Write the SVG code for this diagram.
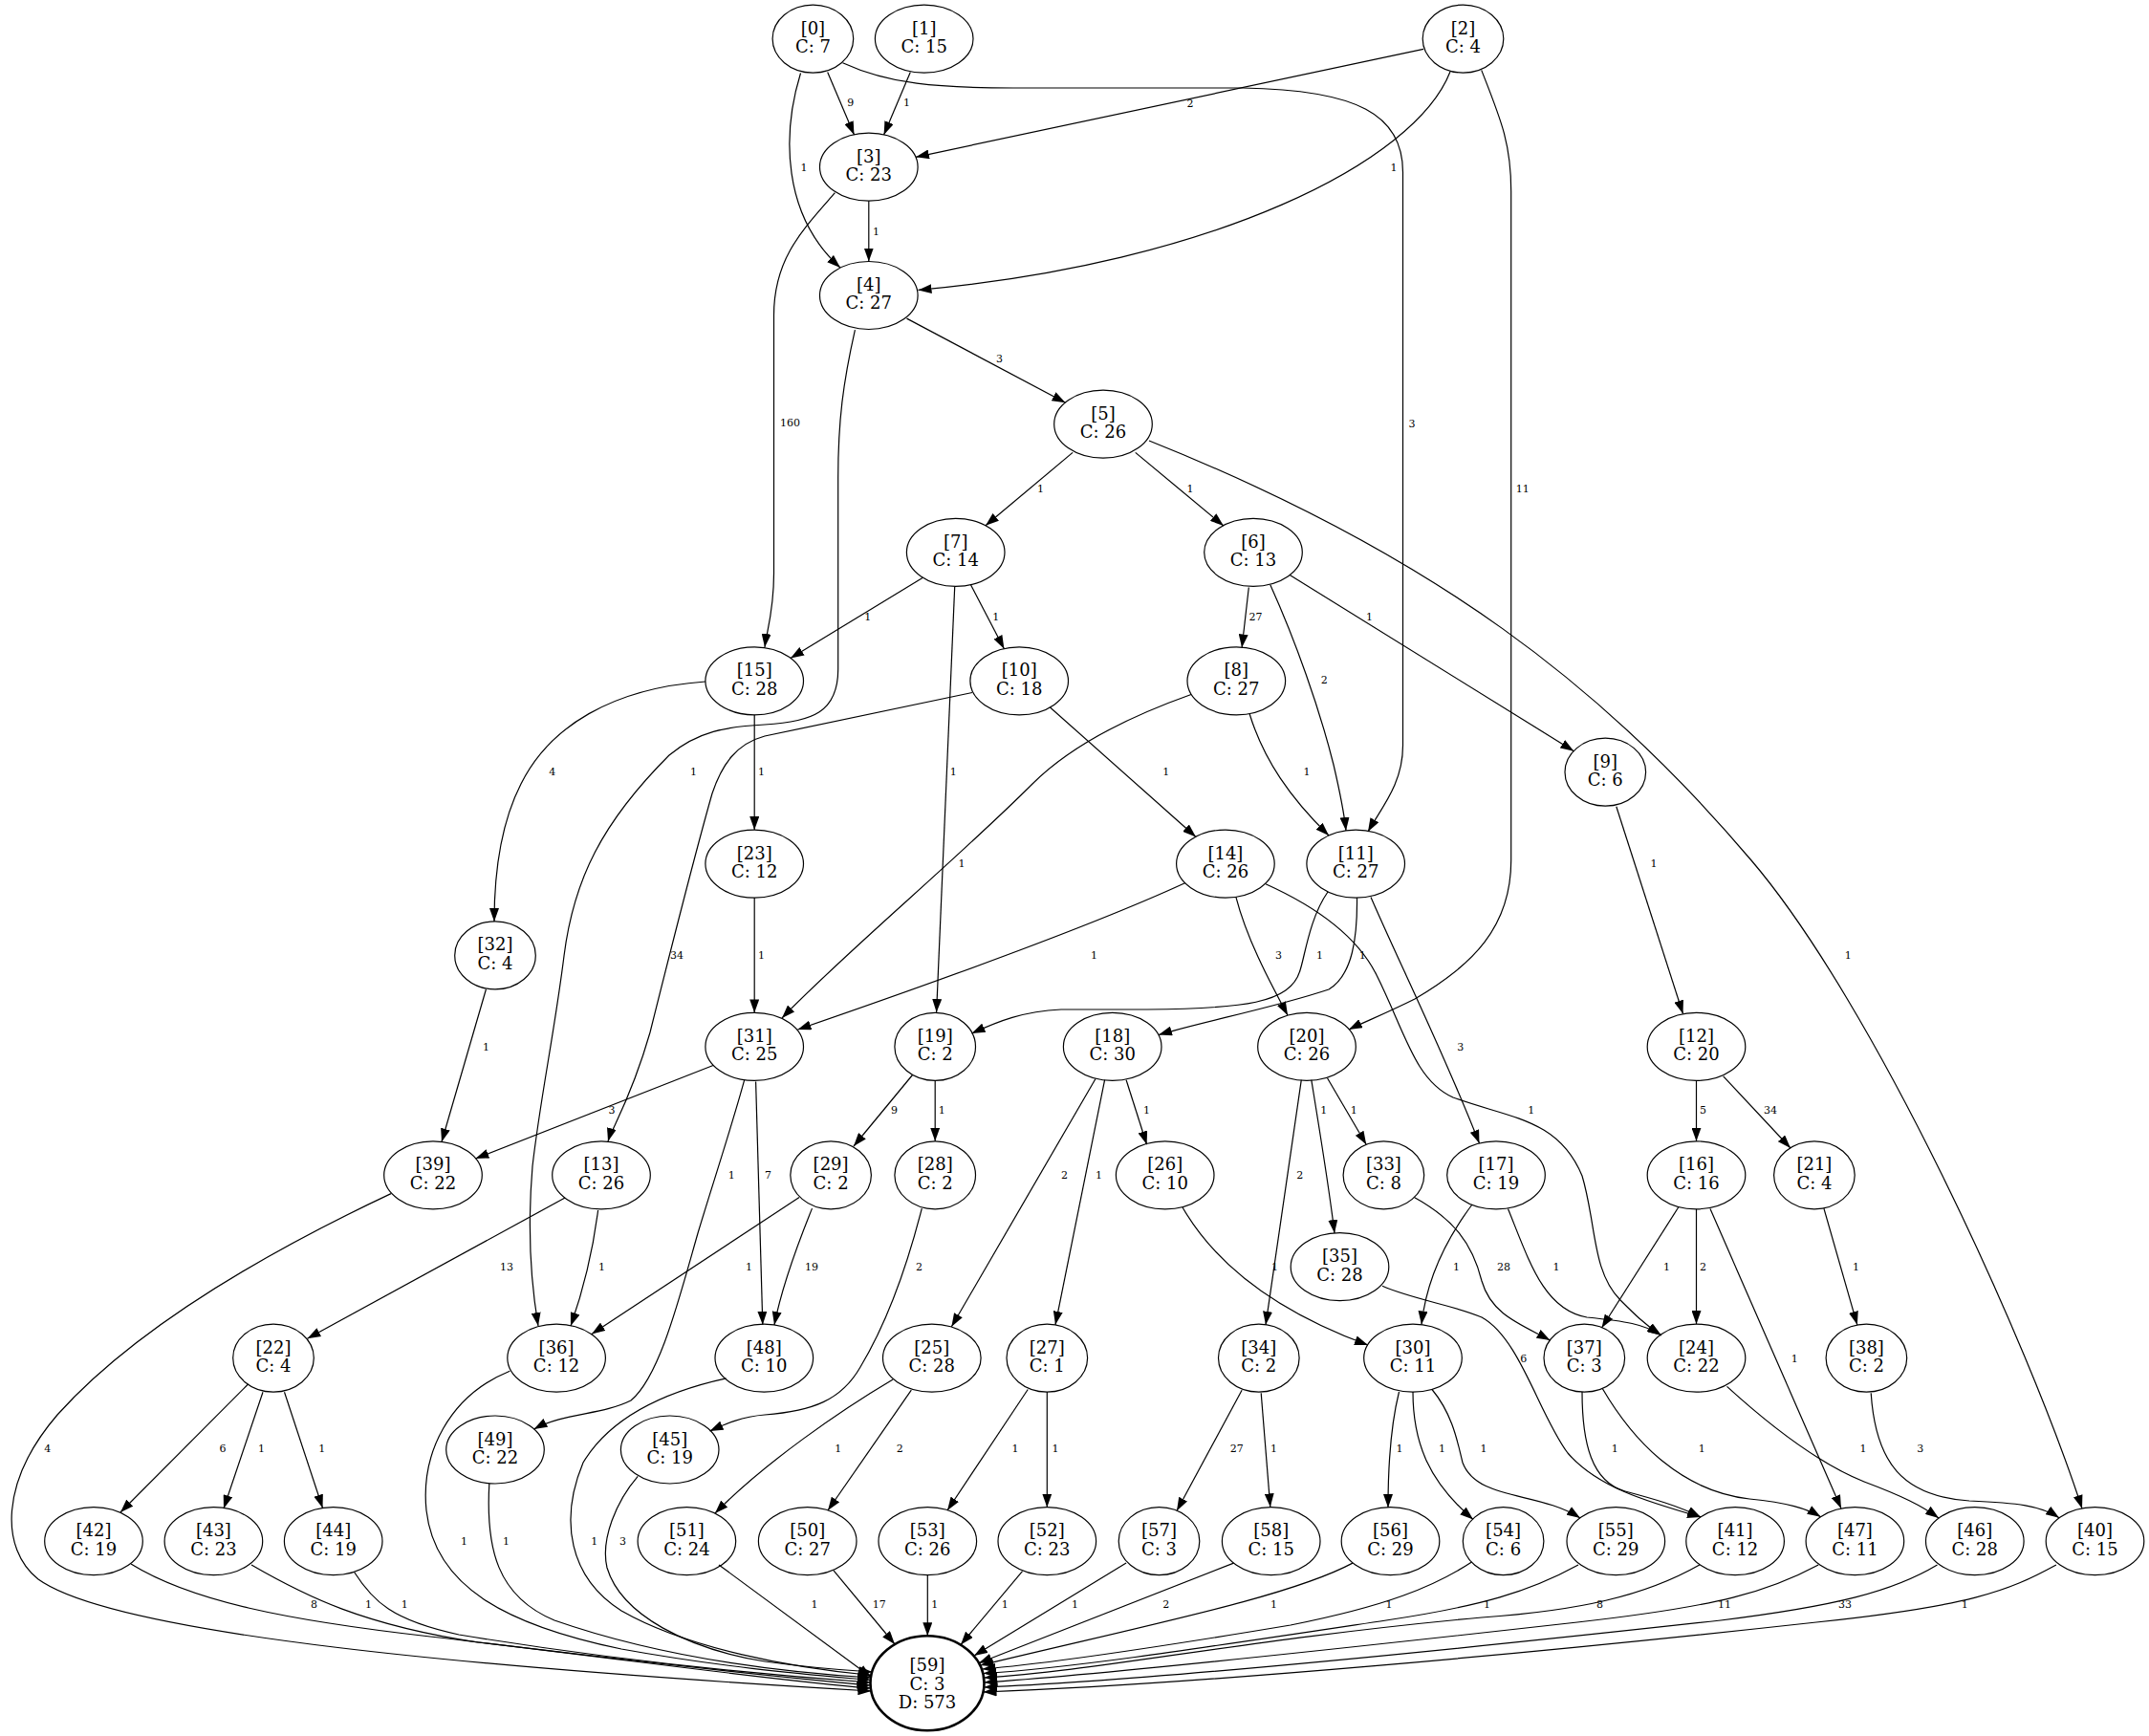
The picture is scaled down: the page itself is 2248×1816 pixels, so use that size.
<svg xmlns="http://www.w3.org/2000/svg" width="2248" height="1816" viewBox="0 0 2248 1816">
<defs>
<style>
.n ellipse{fill:none;stroke:#000;stroke-width:1.2}
.n text{font-family:"DejaVu Serif","Liberation Serif",serif;font-size:18px;text-anchor:middle;fill:#000}
.b ellipse{stroke-width:2.6}
.e path{fill:none;stroke:#000;stroke-width:1.2;marker-end:url(#a)}
.e text{font-family:"DejaVu Serif","Liberation Serif",serif;font-size:11px;text-anchor:middle;fill:#000}
</style>
<marker id="a" markerUnits="userSpaceOnUse" markerWidth="14" markerHeight="10" refX="14" refY="5" orient="auto"><path d="M0,0 L14,5 L0,10 z" fill="#000"/></marker>
</defs>
<rect width="2248" height="1816" fill="#fff"/>
<g id="edges" class="e">
<g id="e0_3"><path d="M865.7,75.4 L893.5,141"/><text x="889.7" y="111.4">9</text></g>
<g id="e1_3"><path d="M952.3,75.4 L924.6,141"/><text x="948.5" y="111.4">1</text></g>
<g id="e2_3"><path d="M1489,51.4 L958,164.3"/><text x="1245" y="112.2">2</text></g>
<g id="e0_4"><path d="M837.5,76.5 C818,140 818,225 879,280"/><text x="840.9" y="178.7">1</text></g>
<g id="e2_4"><path d="M1517,75 C1480,170 1270,275 960.5,303.4"/><text x="1458" y="178.7">1</text></g>
<g id="e0_11"><path d="M881.5,65.7 C930,88 980,92 1060,92 L1300,92 C1420,94 1467.5,120 1467.5,180 L1467.5,780 C1467.5,820 1445,845 1431,870"/><text x="1477" y="446.5">3</text></g>
<g id="e3_4"><path d="M908.8,210.2 L908.8,273.5"/><text x="916.5" y="245.5">1</text></g>
<g id="e3_15"><path d="M873.4,201.7 C840,240 809.5,270 809.5,330 L809.5,600 C809.5,640 802,660 800,677"/><text x="826.5" y="446">160</text></g>
<g id="e4_5"><path d="M948.5,333.1 L1114.5,421.3"/><text x="1045.6" y="378.9">3</text></g>
<g id="e4_36"><path d="M894.4,345.1 C882,400 876.7,440 876.7,500 L876.7,700 C876.7,745 850,755 800,758 C760,760 730,765 700,790 C630,860 600,920 590,1000 C580,1080 565,1150 557,1220 C552,1280 555,1340 563,1387"/><text x="725.6" y="811.4">1</text></g>
<g id="e5_7"><path d="M1122.1,473.4 L1031,549.8"/><text x="1088.6" y="514.9">1</text></g>
<g id="e5_6"><path d="M1187.7,473.4 L1279.9,550"/><text x="1245" y="514.9">1</text></g>
<g id="e5_40"><path d="M1202,461 C1500,580 1680,720 1832,900 C1960,1050 2120,1400 2178,1578"/><text x="1933.3" y="1003">1</text></g>
<g id="e2_20"><path d="M1549.7,73.4 C1570,125 1580.7,150 1580.7,200 L1580.7,900 C1580.7,970 1540,1010 1480,1045 C1450,1060 1425,1070 1411,1077"/><text x="1592.7" y="514.9">11</text></g>
<g id="e6_8"><path d="M1306.3,614.5 L1299.1,677.5"/><text x="1313.5" y="648.6">27</text></g>
<g id="e6_11"><path d="M1328.8,611.8 C1355,670 1380,740 1395,800 C1402,830 1406,850 1408,869"/><text x="1385.2" y="715.1">2</text></g>
<g id="e6_9"><path d="M1349.2,601.5 L1646.3,785.7"/><text x="1432.5" y="648.6">1</text></g>
<g id="e7_15"><path d="M965,604.5 L827,688.5"/><text x="907.8" y="648.6">1</text></g>
<g id="e7_10"><path d="M1015.5,611.8 L1050.4,678.7"/><text x="1041.8" y="648.6">1</text></g>
<g id="e7_19"><path d="M998.7,613.7 L979.6,1059"/><text x="997.3" y="811.4">1</text></g>
<g id="e8_31"><path d="M1246,726.5 C1180,750 1120,780 1080,820 C1000,900 880,1000 818,1065"/><text x="1005.9" y="906.8">1</text></g>
<g id="e8_11"><path d="M1307.2,747 C1322,795 1350,835 1390,874"/><text x="1367" y="811.4">1</text></g>
<g id="e15_32"><path d="M738,713 C640,720 575,760 545,820 C522,865 517,920 517,964"/><text x="577.8" y="811.4">4</text></g>
<g id="e15_23"><path d="M789.2,747.8 L789.2,868.1"/><text x="796.4" y="811.4">1</text></g>
<g id="e10_13"><path d="M1017,724.5 L800,770 C770,778 755,800 745,830 C725,900 700,1000 680,1080 C660,1150 640,1180 636,1194"/><text x="708" y="1003">34</text></g>
<g id="e10_14"><path d="M1098.5,740 L1251,875.5"/><text x="1219.7" y="811.4">1</text></g>
<g id="e9_12"><path d="M1690.8,843.7 L1760.5,1060.5"/><text x="1730" y="906.8">1</text></g>
<g id="e23_31"><path d="M789.2,939.1 L789.2,1059.4"/><text x="796.4" y="1003">1</text></g>
<g id="e14_31"><path d="M1240,923.5 C1150,965 1000,1020 834.5,1077"/><text x="1144.6" y="1003">1</text></g>
<g id="e14_20"><path d="M1292.9,938.4 C1305,985 1330,1030 1347,1062"/><text x="1337.4" y="1003">3</text></g>
<g id="e11_19"><path d="M1389,933 C1370,960 1365,1000 1360,1015 C1350,1050 1300,1055 1200,1056 L1110,1056 C1070,1058 1045,1068 1016.5,1081"/><text x="1380.4" y="1003">1</text></g>
<g id="e11_18"><path d="M1419.5,939 C1420,980 1415,1020 1390,1035 C1330,1055 1260,1068 1212,1082.5"/><text x="1425.3" y="1003">1</text></g>
<g id="e11_17"><path d="M1434,938.4 C1465,1010 1510,1100 1547.5,1196"/><text x="1527.7" y="1098.9">3</text></g>
<g id="e14_24"><path d="M1324,924.8 C1380,950 1420,980 1440,1020 C1470,1080 1480,1130 1520,1148 C1580,1170 1630,1170 1655,1230 C1670,1280 1665,1330 1695,1360 C1710,1375 1720,1385 1737,1396.5"/><text x="1601.8" y="1165.4">1</text></g>
<g id="e32_39"><path d="M508.4,1035 L462,1194.5"/><text x="508.4" y="1098.9">1</text></g>
<g id="e19_29"><path d="M954.5,1124.5 L893,1199"/><text x="935.6" y="1165.4">9</text></g>
<g id="e19_28"><path d="M978.2,1130.4 L978.2,1193.8"/><text x="985.3" y="1165.4">1</text></g>
<g id="e18_26"><path d="M1178.1,1129.7 L1199.6,1197.3"/><text x="1199.6" y="1165.4">1</text></g>
<g id="e18_25"><path d="M1146,1128.5 L995.4,1387.8"/><text x="1113.5" y="1232.6">2</text></g>
<g id="e18_27"><path d="M1155.6,1129.7 L1104,1385.8"/><text x="1149.4" y="1232.6">1</text></g>
<g id="e20_34"><path d="M1361.3,1129.7 L1324,1385.8"/><text x="1359.8" y="1232.6">2</text></g>
<g id="e20_35"><path d="M1371.8,1129.7 C1380,1180 1390,1240 1396,1290"/><text x="1384.7" y="1165.4">1</text></g>
<g id="e20_33"><path d="M1388.5,1127.7 L1429.2,1197.3"/><text x="1416.3" y="1165.4">1</text></g>
<g id="e12_16"><path d="M1774.5,1130.4 L1774.5,1193.8"/><text x="1781.6" y="1165.4">5</text></g>
<g id="e12_21"><path d="M1802.7,1125.8 L1873,1201"/><text x="1851.9" y="1165.4">34</text></g>
<g id="e31_39"><path d="M746,1114.5 L497.4,1212"/><text x="640" y="1165.4">3</text></g>
<g id="e31_49"><path d="M778.7,1129.7 C765,1180 745,1240 730,1290 C710,1360 690,1440 660,1465 C630,1480 590,1478 558.5,1495"/><text x="765.3" y="1232.6">1</text></g>
<g id="e31_48"><path d="M790.6,1131.6 L797.8,1385.8"/><text x="803.6" y="1232.6">7</text></g>
<g id="e29_36"><path d="M836.1,1252.5 L619,1395.5"/><text x="783.5" y="1329.2">1</text></g>
<g id="e29_48"><path d="M849.5,1264.1 C835,1300 818,1345 810,1386"/><text x="849" y="1329.2">19</text></g>
<g id="e28_45"><path d="M964.3,1264.1 C950,1320 930,1380 900,1430 C880,1465 850,1476 800,1480 C775,1482 758,1490 742.5,1497"/><text x="961.4" y="1329.2">2</text></g>
<g id="e13_22"><path d="M591,1253 L321.5,1400.3"/><text x="530" y="1329.2">13</text></g>
<g id="e13_36"><path d="M625.6,1266 C620,1310 610,1350 597,1387"/><text x="629.5" y="1329.2">1</text></g>
<g id="e26_30"><path d="M1237,1263 C1270,1320 1330,1370 1431,1407"/><text x="1333.5" y="1329.2">1</text></g>
<g id="e17_30"><path d="M1540,1260 C1510,1300 1492,1340 1487,1385.5"/><text x="1523.4" y="1329.2">1</text></g>
<g id="e33_37"><path d="M1479.4,1252.5 C1520,1275 1540,1300 1550,1340 C1560,1375 1590,1385 1621.5,1402"/><text x="1573.1" y="1329.2">28</text></g>
<g id="e17_24"><path d="M1577.5,1264.5 C1600,1320 1615,1370 1660,1378 C1700,1382 1720,1385 1738,1397"/><text x="1628.1" y="1329.2">1</text></g>
<g id="e16_37"><path d="M1756,1262.5 L1675.5,1389"/><text x="1743.4" y="1329.2">1</text></g>
<g id="e16_24"><path d="M1774.5,1264.8 L1774.5,1385.1"/><text x="1781.6" y="1329.2">2</text></g>
<g id="e16_47"><path d="M1789,1264.5 L1926,1578"/><text x="1877.3" y="1424.6">1</text></g>
<g id="e21_38"><path d="M1907.9,1264.1 L1942.8,1385.8"/><text x="1941.4" y="1329.2">1</text></g>
<g id="e35_41"><path d="M1446,1345.3 C1480,1360 1520,1365 1550,1378 C1590,1400 1610,1480 1640,1520 C1670,1555 1720,1570 1779,1587"/><text x="1593.7" y="1424.6">6</text></g>
<g id="e37_41"><path d="M1655,1456 C1655,1510 1665,1550 1700,1560 C1730,1568 1755,1575 1779,1587"/><text x="1689.3" y="1519.3">1</text></g>
<g id="e37_47"><path d="M1676.4,1452.7 C1710,1510 1760,1560 1830,1568 C1870,1572 1890,1578 1904.6,1586.8"/><text x="1780.2" y="1519.3">1</text></g>
<g id="e24_46"><path d="M1806.5,1450.4 C1850,1490 1900,1530 1950,1550 C1990,1565 2010,1575 2028,1588"/><text x="1949" y="1519.3">1</text></g>
<g id="e38_40"><path d="M1957.2,1457.3 C1962,1530 1990,1565 2060,1570 C2110,1572 2135,1575 2154,1587.7"/><text x="2008.8" y="1519.3">3</text></g>
<g id="e30_56"><path d="M1463.5,1456 C1455,1490 1452,1530 1452,1577"/><text x="1464.1" y="1519.3">1</text></g>
<g id="e30_54"><path d="M1478,1456.1 C1478,1510 1495,1550 1541,1589.5"/><text x="1508.5" y="1519.3">1</text></g>
<g id="e30_55"><path d="M1498,1453.5 C1520,1480 1525,1510 1530,1530 C1545,1570 1610,1560 1653,1588"/><text x="1552" y="1519.3">1</text></g>
<g id="e25_51"><path d="M934.1,1443 C880,1475 800,1530 748,1583"/><text x="876.8" y="1519.3">1</text></g>
<g id="e25_50"><path d="M953.3,1454.2 L866,1580"/><text x="941.3" y="1519.3">2</text></g>
<g id="e27_53"><path d="M1075.2,1453.5 L991,1580"/><text x="1061.9" y="1519.3">1</text></g>
<g id="e27_52"><path d="M1095.3,1456.1 L1095.3,1576.7"/><text x="1104" y="1519.3">1</text></g>
<g id="e34_57"><path d="M1299.1,1454.2 L1231,1580.5"/><text x="1293.8" y="1519.3">27</text></g>
<g id="e34_58"><path d="M1319.2,1457.3 L1328.8,1576.4"/><text x="1332.6" y="1519.3">1</text></g>
<g id="e22_42"><path d="M259.5,1448 L126,1582"/><text x="233" y="1519.3">6</text></g>
<g id="e22_43"><path d="M275,1456.2 L234,1578"/><text x="273.6" y="1519.3">1</text></g>
<g id="e22_44"><path d="M297.5,1456.2 L337.5,1577.5"/><text x="336.7" y="1519.3">1</text></g>
<g id="e39_59"><path d="M409,1248.6 C300,1300 150,1380 60,1480 C0,1550 0,1620 40,1652 C120,1710 500,1745 911.5,1769"/><text x="49.7" y="1519.3">4</text></g>
<g id="e42_59"><path d="M137,1636 C200,1675 300,1695 450,1712 C650,1735 800,1757 911,1766"/><text x="328.6" y="1682.4">8</text></g>
<g id="e43_59"><path d="M263,1637 C320,1670 380,1700 500,1718 C700,1742 820,1755 910.6,1763"/><text x="385.5" y="1682.4">1</text></g>
<g id="e44_59"><path d="M370.7,1644.8 C390,1675 410,1695 480,1710 C650,1738 800,1752 910.5,1760"/><text x="423.3" y="1682.4">1</text></g>
<g id="e36_59"><path d="M533.3,1434.2 C470,1460 440,1520 446,1580 C455,1660 530,1700 650,1725 C760,1745 850,1752 910.7,1757.5"/><text x="485.5" y="1616">1</text></g>
<g id="e49_59"><path d="M511.8,1552 C508,1620 520,1670 580,1695 C680,1730 800,1748 911,1755"/><text x="529.5" y="1616">1</text></g>
<g id="e48_59"><path d="M759.6,1441.9 C700,1455 640,1480 610,1530 C585,1590 595,1650 650,1685 C720,1725 830,1745 911.5,1752.5"/><text x="621.8" y="1616">1</text></g>
<g id="e45_59"><path d="M667.2,1544.3 C645,1570 628,1610 635,1640 C650,1690 720,1725 800,1738 C850,1745 880,1747 912.5,1749"/><text x="651.5" y="1616">3</text></g>
<g id="e51_59"><path d="M752,1637 L911.4,1754.5"/><text x="851.9" y="1682.4">1</text></g>
<g id="e50_59"><path d="M872,1642.8 L936,1720"/><text x="919.8" y="1682.4">17</text></g>
<g id="e53_59"><path d="M970.3,1647.7 L970.3,1711.2"/><text x="977.7" y="1682.4">1</text></g>
<g id="e52_59"><path d="M1069.5,1643.6 L1005,1720.5"/><text x="1051.3" y="1682.4">1</text></g>
<g id="e57_59"><path d="M1178.1,1635.1 L1019,1732"/><text x="1124.5" y="1682.4">1</text></g>
<g id="e58_59"><path d="M1290.5,1635.1 L1023.8,1739.8"/><text x="1219.7" y="1682.4">2</text></g>
<g id="e56_59"><path d="M1414.9,1635.1 C1350,1670 1200,1700 1025.5,1742"/><text x="1332.6" y="1682.4">1</text></g>
<g id="e54_59"><path d="M1539.5,1634 C1500,1660 1450,1680 1350,1700 C1200,1725 1100,1740 1027.5,1746"/><text x="1453.1" y="1682.4">1</text></g>
<g id="e55_59"><path d="M1651,1637 C1600,1665 1550,1680 1450,1695 C1250,1725 1120,1745 1028.5,1750.5"/><text x="1555.4" y="1682.4">1</text></g>
<g id="e41_59"><path d="M1777.8,1637 C1720,1670 1650,1685 1550,1692 C1300,1715 1150,1748 1029.3,1755"/><text x="1673.5" y="1682.4">8</text></g>
<g id="e47_59"><path d="M1902.2,1637 C1850,1665 1800,1680 1650,1697 C1400,1725 1150,1752 1029.5,1760"/><text x="1804.1" y="1682.4">11</text></g>
<g id="e46_59"><path d="M2026.5,1637 C1980,1665 1920,1680 1800,1695 C1500,1728 1200,1758 1029.3,1765"/><text x="1929.9" y="1682.4">33</text></g>
<g id="e40_59"><path d="M2150.9,1637 C2100,1665 2060,1680 1900,1697 C1600,1730 1250,1762 1028.5,1770"/><text x="2055.2" y="1682.4">1</text></g>
</g>
<g id="nodes">
<g id="n0" class="n"><ellipse cx="850.4" cy="40.6" rx="42.3" ry="35.5"/><text x="850.4" y="35.6">[0]</text><text x="850.4" y="55">C: 7</text></g>
<g id="n1" class="n"><ellipse cx="966.7" cy="40.6" rx="51.3" ry="35.5"/><text x="966.7" y="35.6">[1]</text><text x="966.7" y="55">C: 15</text></g>
<g id="n2" class="n"><ellipse cx="1530.5" cy="40.6" rx="42.3" ry="35.5"/><text x="1530.5" y="35.6">[2]</text><text x="1530.5" y="55">C: 4</text></g>
<g id="n3" class="n"><ellipse cx="908.8" cy="174.7" rx="51.3" ry="35.5"/><text x="908.8" y="169.7">[3]</text><text x="908.8" y="189.1">C: 23</text></g>
<g id="n4" class="n"><ellipse cx="908.8" cy="309" rx="51.3" ry="35.5"/><text x="908.8" y="304">[4]</text><text x="908.8" y="323.4">C: 27</text></g>
<g id="n5" class="n"><ellipse cx="1154" cy="443.7" rx="51.3" ry="35.5"/><text x="1154" y="438.7">[5]</text><text x="1154" y="458.1">C: 26</text></g>
<g id="n6" class="n"><ellipse cx="1311" cy="577.8" rx="51.3" ry="35.5"/><text x="1311" y="572.8">[6]</text><text x="1311" y="592.2">C: 13</text></g>
<g id="n7" class="n"><ellipse cx="999.7" cy="577.8" rx="51.3" ry="35.5"/><text x="999.7" y="572.8">[7]</text><text x="999.7" y="592.2">C: 14</text></g>
<g id="n8" class="n"><ellipse cx="1293.3" cy="712.3" rx="51.3" ry="35.5"/><text x="1293.3" y="707.3">[8]</text><text x="1293.3" y="726.7">C: 27</text></g>
<g id="n9" class="n"><ellipse cx="1679.3" cy="807.7" rx="42.3" ry="35.5"/><text x="1679.3" y="802.7">[9]</text><text x="1679.3" y="822.1">C: 6</text></g>
<g id="n10" class="n"><ellipse cx="1066.2" cy="712.3" rx="51.3" ry="35.5"/><text x="1066.2" y="707.3">[10]</text><text x="1066.2" y="726.7">C: 18</text></g>
<g id="n11" class="n"><ellipse cx="1418.2" cy="903.6" rx="51.3" ry="35.5"/><text x="1418.2" y="898.6">[11]</text><text x="1418.2" y="918">C: 27</text></g>
<g id="n12" class="n"><ellipse cx="1774.5" cy="1094.9" rx="51.3" ry="35.5"/><text x="1774.5" y="1089.9">[12]</text><text x="1774.5" y="1109.3">C: 20</text></g>
<g id="n13" class="n"><ellipse cx="629" cy="1229.3" rx="51.3" ry="35.5"/><text x="629" y="1224.3">[13]</text><text x="629" y="1243.7">C: 26</text></g>
<g id="n14" class="n"><ellipse cx="1281.9" cy="903.6" rx="51.3" ry="35.5"/><text x="1281.9" y="898.6">[14]</text><text x="1281.9" y="918">C: 26</text></g>
<g id="n15" class="n"><ellipse cx="789.2" cy="712.3" rx="51.3" ry="35.5"/><text x="789.2" y="707.3">[15]</text><text x="789.2" y="726.7">C: 28</text></g>
<g id="n16" class="n"><ellipse cx="1774.5" cy="1229.3" rx="51.3" ry="35.5"/><text x="1774.5" y="1224.3">[16]</text><text x="1774.5" y="1243.7">C: 16</text></g>
<g id="n17" class="n"><ellipse cx="1565" cy="1229.3" rx="51.3" ry="35.5"/><text x="1565" y="1224.3">[17]</text><text x="1565" y="1243.7">C: 19</text></g>
<g id="n18" class="n"><ellipse cx="1163.7" cy="1094.9" rx="51.3" ry="35.5"/><text x="1163.7" y="1089.9">[18]</text><text x="1163.7" y="1109.3">C: 30</text></g>
<g id="n19" class="n"><ellipse cx="978.2" cy="1094.9" rx="42.3" ry="35.5"/><text x="978.2" y="1089.9">[19]</text><text x="978.2" y="1109.3">C: 2</text></g>
<g id="n20" class="n"><ellipse cx="1367" cy="1094.9" rx="51.3" ry="35.5"/><text x="1367" y="1089.9">[20]</text><text x="1367" y="1109.3">C: 26</text></g>
<g id="n21" class="n"><ellipse cx="1897.9" cy="1229.3" rx="42.3" ry="35.5"/><text x="1897.9" y="1224.3">[21]</text><text x="1897.9" y="1243.7">C: 4</text></g>
<g id="n22" class="n"><ellipse cx="286" cy="1420.6" rx="42.3" ry="35.5"/><text x="286" y="1415.6">[22]</text><text x="286" y="1435">C: 4</text></g>
<g id="n23" class="n"><ellipse cx="789.2" cy="903.6" rx="51.3" ry="35.5"/><text x="789.2" y="898.6">[23]</text><text x="789.2" y="918">C: 12</text></g>
<g id="n24" class="n"><ellipse cx="1774.5" cy="1420.6" rx="51.3" ry="35.5"/><text x="1774.5" y="1415.6">[24]</text><text x="1774.5" y="1435">C: 22</text></g>
<g id="n25" class="n"><ellipse cx="974.8" cy="1420.6" rx="51.3" ry="35.5"/><text x="974.8" y="1415.6">[25]</text><text x="974.8" y="1435">C: 28</text></g>
<g id="n26" class="n"><ellipse cx="1218.7" cy="1229.3" rx="51.3" ry="35.5"/><text x="1218.7" y="1224.3">[26]</text><text x="1218.7" y="1243.7">C: 10</text></g>
<g id="n27" class="n"><ellipse cx="1095.3" cy="1420.6" rx="42.3" ry="35.5"/><text x="1095.3" y="1415.6">[27]</text><text x="1095.3" y="1435">C: 1</text></g>
<g id="n28" class="n"><ellipse cx="978.2" cy="1229.3" rx="42.3" ry="35.5"/><text x="978.2" y="1224.3">[28]</text><text x="978.2" y="1243.7">C: 2</text></g>
<g id="n29" class="n"><ellipse cx="869.1" cy="1229.3" rx="42.3" ry="35.5"/><text x="869.1" y="1224.3">[29]</text><text x="869.1" y="1243.7">C: 2</text></g>
<g id="n30" class="n"><ellipse cx="1478" cy="1420.6" rx="51.3" ry="35.5"/><text x="1478" y="1415.6">[30]</text><text x="1478" y="1435">C: 11</text></g>
<g id="n31" class="n"><ellipse cx="789.2" cy="1094.9" rx="51.3" ry="35.5"/><text x="789.2" y="1089.9">[31]</text><text x="789.2" y="1109.3">C: 25</text></g>
<g id="n32" class="n"><ellipse cx="518" cy="999.4" rx="42.3" ry="35.5"/><text x="518" y="994.4">[32]</text><text x="518" y="1013.8">C: 4</text></g>
<g id="n33" class="n"><ellipse cx="1447.4" cy="1229.3" rx="42.3" ry="35.5"/><text x="1447.4" y="1224.3">[33]</text><text x="1447.4" y="1243.7">C: 8</text></g>
<g id="n34" class="n"><ellipse cx="1316.8" cy="1420.6" rx="42.3" ry="35.5"/><text x="1316.8" y="1415.6">[34]</text><text x="1316.8" y="1435">C: 2</text></g>
<g id="n35" class="n"><ellipse cx="1401.5" cy="1325.2" rx="51.3" ry="35.5"/><text x="1401.5" y="1320.2">[35]</text><text x="1401.5" y="1339.6">C: 28</text></g>
<g id="n36" class="n"><ellipse cx="582.1" cy="1420.6" rx="51.3" ry="35.5"/><text x="582.1" y="1415.6">[36]</text><text x="582.1" y="1435">C: 12</text></g>
<g id="n37" class="n"><ellipse cx="1657.3" cy="1420.6" rx="42.3" ry="35.5"/><text x="1657.3" y="1415.6">[37]</text><text x="1657.3" y="1435">C: 3</text></g>
<g id="n38" class="n"><ellipse cx="1952.4" cy="1420.6" rx="42.3" ry="35.5"/><text x="1952.4" y="1415.6">[38]</text><text x="1952.4" y="1435">C: 2</text></g>
<g id="n39" class="n"><ellipse cx="453" cy="1229.3" rx="51.3" ry="35.5"/><text x="453" y="1224.3">[39]</text><text x="453" y="1243.7">C: 22</text></g>
<g id="n40" class="n"><ellipse cx="2191.5" cy="1612.2" rx="51.3" ry="35.5"/><text x="2191.5" y="1607.2">[40]</text><text x="2191.5" y="1626.6">C: 15</text></g>
<g id="n41" class="n"><ellipse cx="1815.1" cy="1612.2" rx="51.3" ry="35.5"/><text x="1815.1" y="1607.2">[41]</text><text x="1815.1" y="1626.6">C: 12</text></g>
<g id="n42" class="n"><ellipse cx="98" cy="1612.2" rx="51.3" ry="35.5"/><text x="98" y="1607.2">[42]</text><text x="98" y="1626.6">C: 19</text></g>
<g id="n43" class="n"><ellipse cx="223.4" cy="1612.2" rx="51.3" ry="35.5"/><text x="223.4" y="1607.2">[43]</text><text x="223.4" y="1626.6">C: 23</text></g>
<g id="n44" class="n"><ellipse cx="348.7" cy="1612.2" rx="51.3" ry="35.5"/><text x="348.7" y="1607.2">[44]</text><text x="348.7" y="1626.6">C: 19</text></g>
<g id="n45" class="n"><ellipse cx="700.7" cy="1516.5" rx="51.3" ry="35.5"/><text x="700.7" y="1511.5">[45]</text><text x="700.7" y="1530.9">C: 19</text></g>
<g id="n46" class="n"><ellipse cx="2065.8" cy="1612.2" rx="51.3" ry="35.5"/><text x="2065.8" y="1607.2">[46]</text><text x="2065.8" y="1626.6">C: 28</text></g>
<g id="n47" class="n"><ellipse cx="1940.4" cy="1612.2" rx="51.3" ry="35.5"/><text x="1940.4" y="1607.2">[47]</text><text x="1940.4" y="1626.6">C: 11</text></g>
<g id="n48" class="n"><ellipse cx="799.3" cy="1420.6" rx="51.3" ry="35.5"/><text x="799.3" y="1415.6">[48]</text><text x="799.3" y="1435">C: 10</text></g>
<g id="n49" class="n"><ellipse cx="518" cy="1516.5" rx="51.3" ry="35.5"/><text x="518" y="1511.5">[49]</text><text x="518" y="1530.9">C: 22</text></g>
<g id="n50" class="n"><ellipse cx="844.7" cy="1612.2" rx="51.3" ry="35.5"/><text x="844.7" y="1607.2">[50]</text><text x="844.7" y="1626.6">C: 27</text></g>
<g id="n51" class="n"><ellipse cx="718.4" cy="1612.2" rx="51.3" ry="35.5"/><text x="718.4" y="1607.2">[51]</text><text x="718.4" y="1626.6">C: 24</text></g>
<g id="n52" class="n"><ellipse cx="1095.3" cy="1612.2" rx="51.3" ry="35.5"/><text x="1095.3" y="1607.2">[52]</text><text x="1095.3" y="1626.6">C: 23</text></g>
<g id="n53" class="n"><ellipse cx="970.3" cy="1612.2" rx="51.3" ry="35.5"/><text x="970.3" y="1607.2">[53]</text><text x="970.3" y="1626.6">C: 26</text></g>
<g id="n54" class="n"><ellipse cx="1572.6" cy="1612.2" rx="42.3" ry="35.5"/><text x="1572.6" y="1607.2">[54]</text><text x="1572.6" y="1626.6">C: 6</text></g>
<g id="n55" class="n"><ellipse cx="1690.3" cy="1612.2" rx="51.3" ry="35.5"/><text x="1690.3" y="1607.2">[55]</text><text x="1690.3" y="1626.6">C: 29</text></g>
<g id="n56" class="n"><ellipse cx="1454.5" cy="1612.2" rx="51.3" ry="35.5"/><text x="1454.5" y="1607.2">[56]</text><text x="1454.5" y="1626.6">C: 29</text></g>
<g id="n57" class="n"><ellipse cx="1212.5" cy="1612.2" rx="42.3" ry="35.5"/><text x="1212.5" y="1607.2">[57]</text><text x="1212.5" y="1626.6">C: 3</text></g>
<g id="n58" class="n"><ellipse cx="1329.7" cy="1612.2" rx="51.3" ry="35.5"/><text x="1329.7" y="1607.2">[58]</text><text x="1329.7" y="1626.6">C: 15</text></g>
<g id="n59" class="n b"><ellipse cx="970" cy="1760.7" rx="59.5" ry="49.5"/><text x="970" y="1748.2">[59]</text><text x="970" y="1767.7">C: 3</text><text x="970" y="1787.2">D: 573</text></g>
</g>
</svg>
